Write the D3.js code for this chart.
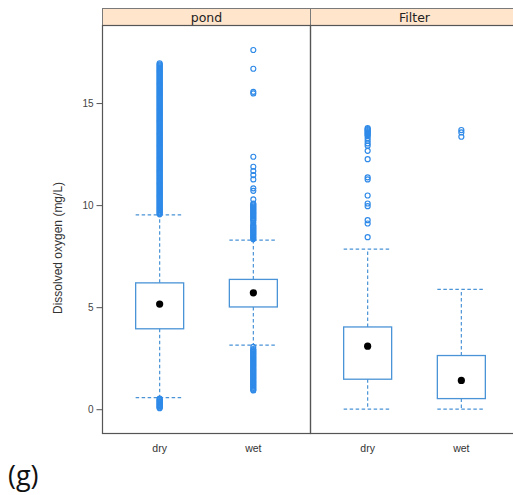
<!DOCTYPE html>
<html>
<head>
<meta charset="utf-8">
<script src="https://cdn.jsdelivr.net/npm/d3@7"></script>
<style>
  html, body { margin: 0; padding: 0; background: #fff; }
  svg { display: block; }
</style>
</head>
<body>
<svg id="chart" width="513" height="495"></svg>
<script>
// ---------- data ----------
const panels = ["pond", "Filter"];
const categories = ["dry", "wet"];
const yTicks = [0, 5, 10, 15];

// box stats per panel/category: [lowerWhisker, q1, median, q3, upperWhisker]
const pondDryStats = [0.57, 3.94, 5.15, 6.19, 9.52];
const pondWetStats = [3.14, 5.01, 5.70, 6.36, 8.28];
const filterDryStats = [0.0, 1.47, 3.09, 4.03, 7.84];
const filterWetStats = [0.0, 0.52, 1.41, 2.63, 5.87];

// outliers
const pondDryOutliers = [
  0.52, 0.48, 0.44, 0.40, 0.36, 0.32, 0.28, 0.24, 0.20, 0.16, 0.12, 0.08, 0.05,
  9.55, 9.6, 9.65, 9.7, 9.75, 9.8, 9.85, 9.9, 9.95, 10.0,
  10.05, 10.1, 10.15, 10.2, 10.25, 10.3, 10.35, 10.4, 10.45, 10.5,
  10.55, 10.6, 10.65, 10.7, 10.75, 10.8, 10.85, 10.9, 10.95, 11.0,
  11.05, 11.1, 11.15, 11.2, 11.25, 11.3, 11.35, 11.4, 11.45, 11.5,
  11.55, 11.6, 11.65, 11.7, 11.75, 11.8, 11.85, 11.9, 11.95, 12.0,
  12.05, 12.1, 12.15, 12.2, 12.25, 12.3, 12.35, 12.4, 12.45, 12.5,
  12.55, 12.6, 12.65, 12.7, 12.75, 12.8, 12.85, 12.9, 12.95, 13.0,
  13.05, 13.1, 13.15, 13.2, 13.25, 13.3, 13.35, 13.4, 13.45, 13.5,
  13.55, 13.6, 13.65, 13.7, 13.75, 13.8, 13.85, 13.9, 13.95, 14.0,
  14.05, 14.1, 14.15, 14.2, 14.25, 14.3, 14.35, 14.4, 14.45, 14.5,
  14.55, 14.6, 14.65, 14.7, 14.75, 14.8, 14.85, 14.9, 14.95, 15.0,
  15.05, 15.1, 15.15, 15.2, 15.25, 15.3, 15.35, 15.4, 15.45, 15.5,
  15.55, 15.6, 15.65, 15.7, 15.75, 15.8, 15.85, 15.9, 15.95, 16.0,
  16.05, 16.1, 16.15, 16.2, 16.25, 16.3, 16.35, 16.4, 16.45, 16.5,
  16.55, 16.6, 16.65, 16.7, 16.75, 16.8, 16.85, 16.9, 16.95
];
const pondWetOutliers = [
  3.05,
  2.95, 2.9, 2.85, 2.8, 2.75, 2.7, 2.65, 2.6, 2.55, 2.5, 2.45, 2.4, 2.35, 2.3,
  2.25, 2.2, 2.15, 2.1, 2.05, 2.0, 1.95, 1.9, 1.85, 1.8, 1.75, 1.7, 1.65, 1.6,
  1.55, 1.5, 1.45, 1.4, 1.35, 1.3, 1.25, 1.2, 1.15, 1.1, 1.05, 1.0, 0.95, 0.92,
  8.33, 8.38, 8.43, 8.48, 8.53, 8.58, 8.63, 8.68, 8.73, 8.78, 8.83, 8.88, 8.93,
  8.98, 9.03, 9.13, 9.23, 9.28, 9.33, 9.38, 9.43, 9.48, 9.53, 9.58, 9.63, 9.68,
  9.73, 9.78, 9.83, 9.88, 9.93, 9.98, 10.03, 10.08,
  10.28, 10.70, 10.82, 11.26, 11.47, 11.67, 11.88, 12.37, 15.47, 15.55, 16.68, 17.6
];
const filterDryOutliers = [
  13.77, 13.72, 13.68, 13.63, 13.58, 13.53, 13.48, 13.43, 13.38, 13.27, 13.15,
  13.02, 12.91, 12.66, 12.25, 11.36, 11.26, 10.47, 10.08, 9.95, 9.26, 9.10, 8.43
];
const filterWetOutliers = [13.68, 13.56, 13.35];

const groups = [
  { panel: "pond", cat: "dry", stats: pondDryStats, out: pondDryOutliers },
  { panel: "pond", cat: "wet", stats: pondWetStats, out: pondWetOutliers },
  { panel: "Filter", cat: "dry", stats: filterDryStats, out: filterDryOutliers },
  { panel: "Filter", cat: "wet", stats: filterWetStats, out: filterWetOutliers }
];

// ---------- layout ----------
const svg = d3.select("#chart");
const frameLeft = 102.5, panelW = 208, stripTop = 8.5, stripH = 17, plotBottom = 433.5;
const plotTop = stripTop + stripH;

const xPanel = d3.scaleBand().domain(panels).range([frameLeft, frameLeft + panelW * 2]).padding(0);
const xCat = d3.scalePoint().domain(categories).range([0, panelW]).padding(0.61);
const y = d3.scaleLinear().domain([-1.19, 18.8]).range([plotBottom, plotTop]);

const boxColor = "#4a93d6";
const outColor = "#2f8ae8";
const boxW = 48;

// strips
panels.forEach(p => {
  const x0 = xPanel(p);
  svg.append("rect")
    .attr("x", x0).attr("y", stripTop)
    .attr("width", panelW).attr("height", stripH)
    .attr("fill", "#ffe5cc").attr("stroke", "#7a7a7a").attr("stroke-width", 1);
  svg.append("text")
    .attr("x", x0 + panelW / 2).attr("y", stripTop + 13)
    .attr("text-anchor", "middle")
    .attr("font-family", "DejaVu Sans, sans-serif")
    .attr("font-size", 12.5)
    .attr("fill", "#222")
    .text(p);
});

// panels frame
panels.forEach(p => {
  svg.append("rect")
    .attr("x", xPanel(p)).attr("y", plotTop)
    .attr("width", panelW).attr("height", plotBottom - plotTop)
    .attr("fill", "none").attr("stroke", "#555").attr("stroke-width", 1.2);
});

// y axis
const yAxis = d3.axisLeft(y).tickValues(yTicks).tickSize(6).tickPadding(3);
const gy = svg.append("g").attr("transform", `translate(${frameLeft},0)`).call(yAxis);
gy.select(".domain").remove();
gy.selectAll(".tick line").attr("stroke", "#555");
gy.selectAll(".tick text")
  .attr("font-family", "Liberation Sans, Arial, sans-serif")
  .attr("font-size", 10).attr("fill", "#444");

// y label
svg.append("text")
  .attr("transform", `translate(62,${y(7.9)}) rotate(-90)`)
  .attr("text-anchor", "middle")
  .attr("font-family", "Liberation Sans, Arial, sans-serif")
  .attr("font-size", 12).attr("fill", "#333")
  .text("Dissolved oxygen (mg/L)");

// x labels
panels.forEach(p => {
  categories.forEach(c => {
    svg.append("text")
      .attr("x", xPanel(p) + xCat(c)).attr("y", 452)
      .attr("text-anchor", "middle")
      .attr("font-family", "Liberation Sans, Arial, sans-serif")
      .attr("font-size", 10.5).attr("fill", "#333")
      .text(c);
  });
});

// boxes
groups.forEach(g => {
  const cx = xPanel(g.panel) + xCat(g.cat);
  const [lw, q1, med, q3, uw] = g.stats;
  const gg = svg.append("g");
  const dash = "3.5,2.5";
  gg.append("line").attr("x1", cx).attr("x2", cx).attr("y1", y(q3)).attr("y2", y(uw))
    .attr("stroke", boxColor).attr("stroke-width", 1.2).attr("stroke-dasharray", dash);
  gg.append("line").attr("x1", cx).attr("x2", cx).attr("y1", y(q1)).attr("y2", y(lw))
    .attr("stroke", boxColor).attr("stroke-width", 1.2).attr("stroke-dasharray", dash);
  [lw, uw].forEach(v => {
    gg.append("line").attr("x1", cx - boxW / 2).attr("x2", cx + boxW / 2)
      .attr("y1", y(v)).attr("y2", y(v))
      .attr("stroke", boxColor).attr("stroke-width", 1.2).attr("stroke-dasharray", dash);
  });
  gg.append("rect").attr("x", cx - boxW / 2).attr("width", boxW)
    .attr("y", y(q3)).attr("height", y(q1) - y(q3))
    .attr("fill", "none").attr("stroke", boxColor).attr("stroke-width", 1.3);
  gg.selectAll("circle.out").data(g.out).enter().append("circle")
    .attr("class", "out")
    .attr("cx", cx).attr("cy", d => y(d)).attr("r", 2.5)
    .attr("fill", "none").attr("stroke", outColor).attr("stroke-width", 1.2);
  gg.append("circle").attr("cx", cx).attr("cy", y(med)).attr("r", 3.6).attr("fill", "#000");
});

// panel label
svg.append("text")
  .attr("x", 8).attr("y", 485)
  .attr("font-family", "Open Sans, Liberation Sans, sans-serif")
  .attr("font-size", 27).attr("fill", "#111")
  .text("(g)");
</script>
</body>
</html>
